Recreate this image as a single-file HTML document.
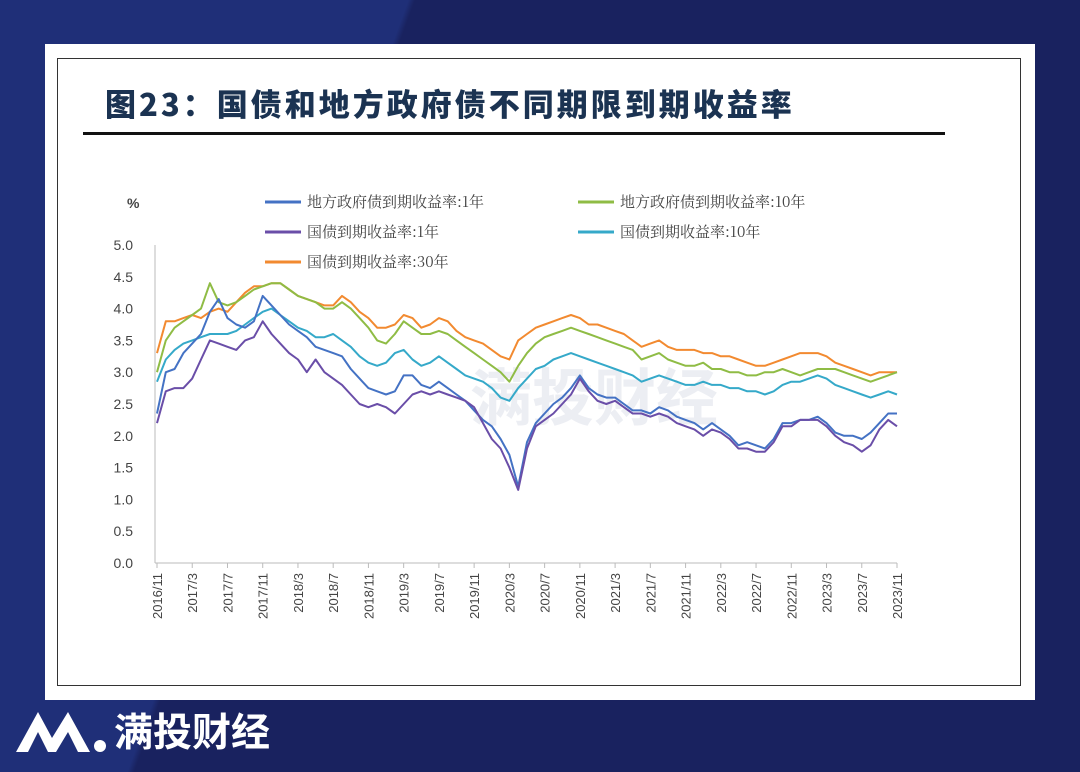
<!DOCTYPE html>
<html><head><meta charset="utf-8"><style>
body{margin:0;width:1080px;height:772px;overflow:hidden;background:#1a2360;font-family:"Liberation Sans","Noto Sans CJK SC",sans-serif;}
#bg{position:absolute;left:0;top:0;width:1080px;height:772px;background:linear-gradient(110deg,#1f2f78 0%,#1f2f78 30%,#19225f 30.5%,#19225f 100%);}
#panel{position:absolute;left:45px;top:44px;width:990px;height:656px;background:#fff;}
#frame{position:absolute;left:12px;top:14px;width:964px;height:628px;border:1px solid #333;box-sizing:border-box;}
#title{position:absolute;left:60px;top:36px;font-family:"Noto Sans CJK SC",sans-serif;font-weight:900;font-size:31px;color:#1b3352;letter-spacing:3px;}
#rule{position:absolute;left:38px;top:88px;width:862px;height:3px;background:#111;}
#footer{position:absolute;left:114px;top:702px;color:#fff;font-family:"Noto Sans CJK SC",sans-serif;font-weight:700;font-size:39px;}
</style></head><body>
<div id="bg"></div>
<div id="panel">
<div id="frame"></div>
<div id="title">图23：国债和地方政府债不同期限到期收益率</div>
<div id="rule"></div>
</div>
<svg style="position:absolute;left:12px;top:706px" width="95" height="50">
<path d="M4 46 L26 6 L40 32 L56 6 L78 46 L66 46 L56 26 L44 46 L36 46 L26 26 L16 46 Z" fill="#fff"/><circle cx="88" cy="40" r="6" fill="#fff"/></svg>
<div id="footer">满投财经</div>
<svg id="chart" style="position:absolute;left:0;top:0" width="1080" height="772"></svg>
<script>
const xLabels=["2016/11","2017/3","2017/7","2017/11","2018/3","2018/7","2018/11","2019/3","2019/7","2019/11","2020/3","2020/7","2020/11","2021/3","2021/7","2021/11","2022/3","2022/7","2022/11","2023/3","2023/7","2023/11"];
const yTicks=[0,0.5,1,1.5,2,2.5,3,3.5,4,4.5,5];
const seriesNames=["地方政府债到期收益率:1年","地方政府债到期收益率:10年","国债到期收益率:1年","国债到期收益率:10年","国债到期收益率:30年"];
const localY1=[2.35,3.0,3.05,3.3,3.45,3.6,3.95,4.15,3.85,3.75,3.7,3.8,4.2,4.05,3.9,3.75,3.65,3.55,3.4,3.35,3.3,3.25,3.05,2.9,2.75,2.7,2.65,2.7,2.95,2.95,2.8,2.75,2.85,2.75,2.65,2.55,2.4,2.25,2.15,1.95,1.7,1.2,1.9,2.2,2.35,2.5,2.6,2.75,2.95,2.75,2.65,2.6,2.6,2.5,2.4,2.4,2.35,2.45,2.4,2.3,2.25,2.2,2.1,2.2,2.1,2.0,1.85,1.9,1.85,1.8,1.95,2.2,2.2,2.25,2.25,2.3,2.2,2.05,2.0,2.0,1.95,2.05,2.2,2.35,2.35];
const localY10=[3.0,3.5,3.7,3.8,3.9,4.0,4.4,4.1,4.05,4.1,4.2,4.3,4.35,4.4,4.4,4.3,4.2,4.15,4.1,4.0,4.0,4.1,4.0,3.85,3.7,3.5,3.45,3.6,3.8,3.7,3.6,3.6,3.65,3.6,3.5,3.4,3.3,3.2,3.1,3.0,2.85,3.1,3.3,3.45,3.55,3.6,3.65,3.7,3.65,3.6,3.55,3.5,3.45,3.4,3.35,3.2,3.25,3.3,3.2,3.15,3.1,3.1,3.15,3.05,3.05,3.0,3.0,2.95,2.95,3.0,3.0,3.05,3.0,2.95,3.0,3.05,3.05,3.05,3.0,2.95,2.9,2.85,2.9,2.95,3.0];
const govY1=[2.2,2.7,2.75,2.75,2.9,3.2,3.5,3.45,3.4,3.35,3.5,3.55,3.8,3.6,3.45,3.3,3.2,3.0,3.2,3.0,2.9,2.8,2.65,2.5,2.45,2.5,2.45,2.35,2.5,2.65,2.7,2.65,2.7,2.65,2.6,2.55,2.45,2.2,1.95,1.8,1.5,1.15,1.8,2.15,2.25,2.35,2.5,2.65,2.9,2.7,2.55,2.5,2.55,2.45,2.35,2.35,2.3,2.35,2.3,2.2,2.15,2.1,2.0,2.1,2.05,1.95,1.8,1.8,1.75,1.75,1.9,2.15,2.15,2.25,2.25,2.25,2.15,2.0,1.9,1.85,1.75,1.85,2.1,2.25,2.15];
const govY10=[2.85,3.2,3.35,3.45,3.5,3.55,3.6,3.6,3.6,3.65,3.75,3.85,3.95,4.0,3.9,3.8,3.7,3.65,3.55,3.55,3.6,3.5,3.4,3.25,3.15,3.1,3.15,3.3,3.35,3.2,3.1,3.15,3.25,3.15,3.05,2.95,2.9,2.85,2.75,2.6,2.55,2.75,2.9,3.05,3.1,3.2,3.25,3.3,3.25,3.2,3.15,3.1,3.05,3.0,2.95,2.85,2.9,2.95,2.9,2.85,2.8,2.8,2.85,2.8,2.8,2.75,2.75,2.7,2.7,2.65,2.7,2.8,2.85,2.85,2.9,2.95,2.9,2.8,2.75,2.7,2.65,2.6,2.65,2.7,2.65];
const govY30=[3.3,3.8,3.8,3.85,3.9,3.85,3.95,4.0,3.95,4.1,4.25,4.35,4.35,4.4,4.4,4.3,4.2,4.15,4.1,4.05,4.05,4.2,4.1,3.95,3.85,3.7,3.7,3.75,3.9,3.85,3.7,3.75,3.85,3.8,3.65,3.55,3.5,3.45,3.35,3.25,3.2,3.5,3.6,3.7,3.75,3.8,3.85,3.9,3.85,3.75,3.75,3.7,3.65,3.6,3.5,3.4,3.45,3.5,3.4,3.35,3.35,3.35,3.3,3.3,3.25,3.25,3.2,3.15,3.1,3.1,3.15,3.2,3.25,3.3,3.3,3.3,3.25,3.15,3.1,3.05,3.0,2.95,3.0,3.0,3.0];
const svg=document.getElementById('chart');const NS='http://www.w3.org/2000/svg';
const X0=157,X1=897,Y0=563,Y5=245;
function xs(i,n){return X0+(X1-X0)*i/(n-1);}
function ys(v){return Y0-(Y0-Y5)*v/5;}
function mk(t,a){const e=document.createElementNS(NS,t);for(const k in a)e.setAttribute(k,a[k]);svg.appendChild(e);return e;}
let ax=mk('line',{x1:X0-2,y1:Y5,x2:X0-2,y2:Y0,stroke:'#bbb'});


let bx=mk('line',{x1:X0-2,y1:Y0,x2:X1,y2:Y0,stroke:'#bbb'});


yTicks.forEach(v=>{const t=mk('text',{x:133,y:ys(v)+5,'text-anchor':'end','font-size':14,fill:'#444'});t.textContent=v.toFixed(1);

});
const u=mk('text',{x:127,y:208,'font-size':14,fill:'#444','font-weight':'bold'});u.textContent='%';


xLabels.forEach((l,i)=>{const x=xs(i,xLabels.length);
const tk=mk('line',{x1:x,y1:Y0,x2:x,y2:Y0+5,stroke:'#bbb'});


const t=mk('text',{x:0,y:0,'text-anchor':'end','font-size':13,fill:'#444',transform:`translate(${x+5},${Y0+10}) rotate(-90)`});t.textContent=l;

});
const wm=mk('text',{x:470,y:420,'font-size':62,fill:'#eceef3','font-weight':'bold','font-family':'Noto Sans CJK SC'});wm.textContent='满投财经';


const data=[localY1,localY10,govY1,govY10,govY30];
const colors=['#4472c4','#8fbc45','#6a4ea8','#35a9c9','#f28a30'];
const order=[4,1,3,0,2];
order.forEach(k=>{const d=data[k];const p=d.map((v,i)=>(i?'L':'M')+xs(i,d.length).toFixed(1)+' '+ys(v).toFixed(1)).join('');
const pa=mk('path',{d:p,fill:'none',stroke:colors[k],'stroke-width':2,'stroke-linejoin':'round'});

});
const lpos=[[265,202],[578,202],[265,232],[578,232],[265,262]];
seriesNames.forEach((n,k)=>{const [x,y]=lpos[k];
const l=mk('line',{x1:x,y1:y,x2:x+36,y2:y,stroke:colors[k],'stroke-width':3});


const t=mk('text',{x:x+42,y:y+5,'font-size':15,fill:'#444','font-family':'Noto Serif CJK SC, Liberation Serif, serif'});t.textContent=n;

});
</script>
</body></html>
